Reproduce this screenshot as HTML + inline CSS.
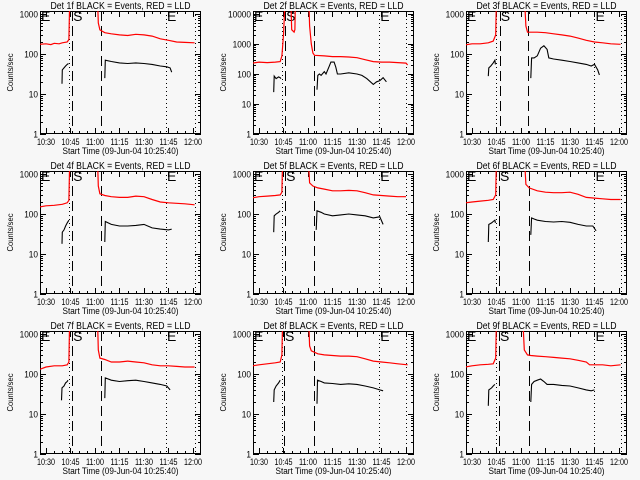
<!DOCTYPE html>
<html><head><meta charset="utf-8"><style>
body{margin:0;background:#f7f7f7;}
svg{display:block;font-family:"Liberation Sans",sans-serif;}
</style></head><body>
<svg id="c" width="640" height="480" viewBox="0 0 640 480"></svg>
<script>
const tickLabels = ["10:30","10:45","11:00","11:15","11:30","11:45","12:00"];
const tickMinutes = [0,15,30,45,60,75,90];
const titles = ["Det 1f","Det 2f","Det 3f","Det 4f","Det 5f","Det 6f","Det 7f","Det 8f","Det 9f"];
const decades = [3,4,3,3,3,3,3,3,3];
const dashTimes = [[16,33.7],[16,33.7],[17,34],[16,33.7],[16,33.7],[16.5,34.8],[16,33.7],[15.3,33.7],[16.5,34.7]];
const dotTimes = [[14,73.5,91],[14,73.6,90],[14.7,75,91.5],[14,73.5,91],[14,73.6,90],[14.7,75,91.5],[14,73.5,91],[14,73.6,90],[14.7,75,91.5]];
const red1=[[-4,175],[0,180],[3,172],[5,185],[8,180],[10,190],[13,200],[14,230],[14.6,3000],[31.5,3000],[32,600],[33,400],[36,340],[40,320],[45,300],[50,290],[55,310],[60,300],[65,280],[70,240],[75,220],[80,200],[85,195],[91,190]];
const red2=[[-4,230],[0,250],[5,240],[10,250],[13,260],[14,400],[15,2000],[16,30000],[19.5,30000],[20,3000],[21.5,2500],[22,3000],[22.3,30000],[30.5,30000],[31,4000],[32,1000],[33,500],[34,420],[40,400],[45,380],[50,380],[55,370],[60,350],[65,300],[70,260],[75,250],[80,250],[85,240],[90,230],[91,200]];
const red3=[[-4,170],[0,180],[5,180],[10,190],[13,210],[14.5,300],[15,3000],[32,3000],[33,500],[34,350],[40,350],[45,340],[50,320],[55,300],[60,280],[65,250],[70,220],[75,200],[80,190],[85,180],[91,175]];
const red4=[[-4,150],[0,160],[5,165],[10,175],[13,190],[14,220],[14.6,3000],[31.5,3000],[32,500],[33,320],[36,290],[40,270],[45,260],[50,260],[55,280],[60,270],[65,230],[70,200],[75,190],[80,185],[85,180],[91,170]];
const red5=[[-5,250],[0,270],[5,280],[10,290],[13,300],[14,350],[14.5,3000],[30,3000],[31,600],[33,500],[36,450],[40,420],[45,380],[50,380],[55,390],[60,380],[65,340],[70,300],[75,290],[80,280],[85,270],[90,270]];
const red6=[[-4,190],[0,200],[5,210],[10,220],[13,230],[14.5,300],[15,3000],[32,3000],[33,550],[35,450],[40,380],[45,350],[50,340],[55,340],[60,350],[65,310],[70,260],[75,250],[80,240],[85,230],[91,230]];
const red7=[[-4,130],[0,150],[5,160],[10,160],[13,170],[14,200],[14.5,3000],[31.5,3000],[32,400],[33,250],[36,230],[40,200],[45,200],[50,210],[55,200],[60,190],[65,170],[70,160],[75,160],[80,155],[85,150],[91,150]];
const red8=[[-4,160],[0,170],[5,180],[10,190],[13,200],[14,300],[14.5,3000],[30.3,3000],[31,500],[32,380],[36,320],[40,300],[45,290],[50,280],[55,280],[60,270],[65,240],[70,210],[75,200],[80,190],[85,180],[91,170]];
const red9=[[-4,150],[0,160],[5,170],[10,175],[13,180],[14.5,250],[15,3000],[31,3000],[32,400],[34,300],[36,290],[40,280],[45,270],[50,260],[55,250],[60,240],[65,220],[70,200],[72,170],[75,170],[80,170],[85,160],[91,170]];
const blk1=[[[9.8,18],[10,40],[11,45],[12,50],[13,55],[13.8,58]],[[36,25],[36.3,70],[40,65],[45,60],[50,58],[55,60],[60,58],[65,55],[70,50],[74,48],[76,45],[77,35]]];
const blk2=[[[9,25],[9.3,85],[10.5,70],[12,80],[13,75],[13.5,70]],[[35.5,30],[36,90],[37,100],[38,90],[40,120],[41,100],[43,180],[44,250],[46,250],[47,170],[48,100],[50,100],[55,110],[60,100],[63,90],[66,70],[70,45],[72,55],[74,60],[76,75],[78,55]]];
const blk3=[[[10,28],[10.3,45],[11.5,50],[13,60],[14,70],[14.3,55]],[[36,25],[36.5,80],[38,80],[40,90],[42,140],[44,160],[46,130],[47,80],[50,75],[55,70],[60,65],[65,60],[70,55],[73,50],[75,55],[77,40],[78,30]]];
const blk4=[[[9.8,18],[10,35],[11,40],[12,50],[13,60],[14,70]],[[36,20],[36.3,65],[40,55],[45,50],[50,50],[55,52],[60,55],[65,45],[70,42],[75,40],[77,42]]];
const blk5=[[[9,35],[9.3,90],[10.5,100],[12,110],[13,120]],[[35,40],[35.5,120],[38,110],[40,100],[45,90],[50,95],[55,100],[60,95],[65,90],[70,80],[74,85],[76,55]]];
const blk6=[[[10,20],[10.3,55],[12,60],[13,65],[14,70],[14.3,60]],[[36,30],[36.5,80],[38,75],[40,70],[45,65],[50,63],[55,65],[60,62],[65,55],[70,50],[74,50],[76,38]]];
const blk7=[[[9.5,22],[9.8,45],[11,50],[12,60],[13,65],[13.5,70]],[[36,25],[36.3,80],[40,70],[45,65],[50,68],[55,70],[60,65],[65,60],[70,55],[74,50],[76,40]]];
const blk8=[[[9,20],[9.3,40],[10.5,50],[12,60],[13,70]],[[35.5,18],[35.8,70],[38,65],[40,60],[45,58],[50,55],[55,57],[60,55],[65,50],[70,45],[74,40],[76,38]]];
const blk9=[[[10,16],[10.3,40],[12,45],[13,50],[14,55]],[[36,20],[36.5,55],[38,65],[40,70],[42,75],[44,65],[46,55],[50,55],[55,52],[60,50],[65,45],[70,40],[73,38],[75,40]]];
const reds=[red1,red2,red3,red4,red5,red6,red7,red8,red9];
const blks=[blk1,blk2,blk3,blk4,blk5,blk6,blk7,blk8,blk9];

const NS="http://www.w3.org/2000/svg";
const svg=document.getElementById('c');
function mk(tag,attrs,parent){const e=document.createElementNS(NS,tag);for(const k in attrs)e.setAttribute(k,attrs[k]);parent.appendChild(e);return e;}
const colL=[40,253,466], rowT=[11,171,331], W=161, H=123;
for(let p=0;p<9;p++){
  const L=colL[p%3], T=rowT[Math.floor(p/3)], B=T+H, R=L+W, nd=decades[p];
  const x=t=>L+6+1.633*t;
  const y=v=>B-(H-3)/nd*Math.log10(v);
  const g=mk('g',{},svg);
  
  
  const cp=mk('clipPath',{id:'cp'+p},g); mk('rect',{x:L,y:T,width:W,height:H},cp);
  const ttl=mk('text',{x:L+W/2-70,y:T-2,'font-size':'10',textLength:140,lengthAdjust:'spacingAndGlyphs'},g);
  ttl.textContent=titles[p]+" BLACK = Events, RED = LLD";
  
  
  const box=mk('rect',{x:L+0.5,y:T+0.5,width:W-1,height:H-1,fill:'none',stroke:'#000','stroke-width':1},g);
  
  
  for(let d=0;d<=nd;d++){
    const v=Math.pow(10,d), yy=Math.round(y(v))+0.5;
    mk('line',{x1:L,x2:L+6,y1:yy,y2:yy,stroke:'#000'},g);
    mk('line',{x1:R-6,x2:R,y1:yy,y2:yy,stroke:'#000'},g);
    const s=String(v), w=s.length*4.6;
    const lb=mk('text',{x:L-2-w,y:yy+3,'font-size':'9',textLength:w,lengthAdjust:'spacingAndGlyphs'},g);
    lb.textContent=s;
    
    
    if(d<nd) for(let m=2;m<10;m++){const ym=Math.round(y(v*m))+0.5;
      mk('line',{x1:L,x2:L+3,y1:ym,y2:ym,stroke:'#000'},g);
      mk('line',{x1:R-3,x2:R,y1:ym,y2:ym,stroke:'#000'},g);}
  }
  for(let t=-5;t<=95;t+=5){const xx=Math.round(x(t))+0.5; if(xx<L||xx>R)continue;
    const len=(t%15===0)?6:3;
    mk('line',{x1:xx,x2:xx,y1:B-len,y2:B,stroke:'#000'},g);
    mk('line',{x1:xx,x2:xx,y1:T,y2:T+len,stroke:'#000'},g);}
  tickMinutes.forEach((t,i)=>{const lb=mk('text',{x:x(t)-9,y:B+11,'font-size':'9',textLength:18,lengthAdjust:'spacingAndGlyphs'},g);
    lb.textContent=tickLabels[i];
    
    });
  const xt=mk('text',{x:L+W/2-58,y:B+20,'font-size':'9',textLength:116,lengthAdjust:'spacingAndGlyphs'},g);
  xt.textContent="Start Time (09-Jun-04 10:25:40)";
  
  
  const yt=mk('text',{x:-19,y:0,'font-size':'8',textLength:38,lengthAdjust:'spacingAndGlyphs',transform:`translate(${L-27},${T+H/2}) rotate(-90)`},g);
  yt.textContent="Counts/sec";
  
  
  dashTimes[p].forEach(t=>{const xx=Math.round(x(t))+0.5;
    const l=mk('line',{x1:xx,x2:xx,y1:T,y2:B,stroke:'#000','stroke-dasharray':'10,5'},g);
    
    });
  dotTimes[p].forEach(t=>{const xx=Math.round(x(t))+0.5;
    const l=mk('line',{x1:xx,x2:xx,y1:T,y2:B,stroke:'#000','stroke-dasharray':'1,3'},g);
    
    });
  [[L+1,'E'],[x(dashTimes[p][0])+1,'S'],[x(dotTimes[p][1])+1,'E']].forEach(a=>{
    const m=mk('text',{x:a[0],y:T+10,'font-size':'14'},g); m.textContent=a[1];
    
    });
  const cg=mk('g',{'clip-path':`url(#cp${p})`},g);
  const rl=mk('polyline',{points:reds[p].map(d=>x(d[0]).toFixed(1)+','+y(d[1]).toFixed(1)).join(' '),fill:'none',stroke:'#ff0000','stroke-width':1.2},cg);
  
  
  blks[p].forEach(seg=>{const bl=mk('polyline',{points:seg.map(d=>x(d[0]).toFixed(1)+','+y(d[1]).toFixed(1)).join(' '),fill:'none',stroke:'#000','stroke-width':1.1},cg);
    
    });
}
</script>
</body></html>
